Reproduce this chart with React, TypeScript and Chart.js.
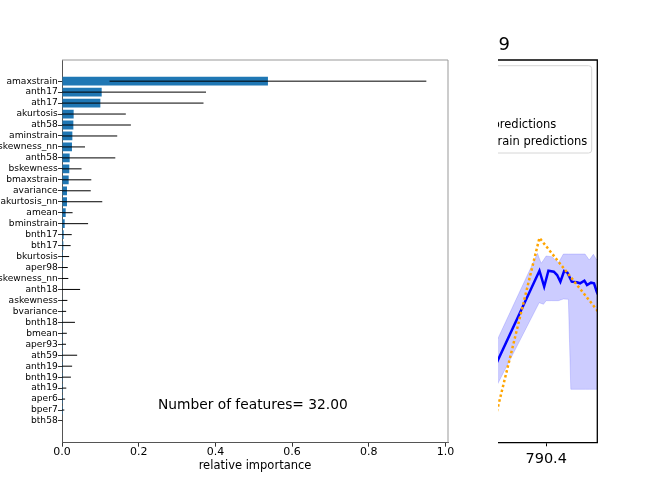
import React, { useEffect, useRef } from "react";
import { Chart, registerables } from "chart.js";
Chart.register(...registerables);
Chart.defaults.font.family = "'DejaVu Sans', sans-serif";

// ---------- left panel: feature importance ----------
const features = [
  "amaxstrain", "anth17", "ath17", "akurtosis", "ath58", "aminstrain", "bskewness_nn", "anth58",
  "bskewness", "bmaxstrain", "avariance", "akurtosis_nn", "amean", "bminstrain", "bnth17", "bth17",
  "bkurtosis", "aper98", "askewness_nn", "anth18", "askewness", "bvariance", "bnth18", "bmean",
  "aper93", "ath59", "anth19", "bnth19", "ath19", "aper6", "bper7", "bth58",
];
const importance = [
  0.537, 0.1035, 0.100, 0.0304, 0.0296, 0.027, 0.026, 0.020,
  0.019, 0.0174, 0.013, 0.013, 0.0096, 0.007, 0.0044, 0.0035,
  0.0026, 0.002, 0.0015, 0.0012, 0.001, 0.0008, 0.0008, 0.0006,
  0.0005, 0.0005, 0.0004, 0.0003, 0.0002, 0.0001, 0.0001, 0.0,
];
const errors = [
  0.413, 0.272, 0.269, 0.136, 0.150, 0.117, 0.034, 0.119,
  0.032, 0.059, 0.062, 0.092, 0.018, 0.061, 0.021, 0.019,
  0.016, 0.013, 0.015, 0.046, 0.013, 0.010, 0.033, 0.012,
  0.010, 0.039, 0.026, 0.023, 0.011, 0.008, 0.006, 0.001,
];
const xTicksLeft = [0, 0.2, 0.4, 0.6, 0.8, 1.0];
const annotationText = "Number of features= 32.00";

// ---------- right panel: predictions (partly visible) ----------
const predX = [789.789, 790.330, 790.379, 790.423, 790.479, 790.513, 790.547, 790.586, 790.620, 790.665, 790.717, 790.751, 790.796, 790.823, 790.865, 790.896, 790.924, 790.958];
const predY = [15.51, 44.89, 40.70, 44.89, 44.62, 43.76, 42.01, 44.81, 44.36, 42.01, 41.85, 41.59, 42.27, 41.15, 41.75, 41.59, 39.39, 37.5];
const bandX = [789.789, 790.310, 790.327, 790.348, 790.372, 790.399, 790.458, 790.527, 790.578, 790.630, 790.655, 790.803, 790.847, 790.889, 790.924, 790.958];
const bandUpper = [21.19, 49.44, 48.21, 46.82, 47.68, 48.73, 48.55, 46.98, 49.25, 49.25, 49.25, 49.25, 47.68, 49.18, 47.68, 48.99];
const bandLower = [9.97, 35.65, 36.52, 36.31, 36.10, 37.04, 37.04, 37.04, 37.48, 37.40, 13.86, 13.86, 13.86, 13.86, 13.86, 13.86];
const obsX = [789.789, 790.330, 790.924, 790.958];
const obsY = [-2.09, 53.49, 34.68, 33.61];
const xTicksRight = [790.4];
const rightTitle = "9";
const legendLabels = ["test predictions", "train predictions"];

const errorBarPlugin = {
  id: "errorBars",
  afterDatasetsDraw(chart: any) {
    const { ctx, chartArea, scales } = chart;
    const x = scales.x, y = scales.y;
    ctx.save();
    ctx.beginPath();
    ctx.rect(chartArea.left, chartArea.top, chartArea.right - chartArea.left, chartArea.bottom - chartArea.top);
    ctx.clip();
    ctx.strokeStyle = "#000";
    ctx.lineWidth = 1;
    importance.forEach((v, i) => {
      const py = y.getPixelForValue(i);
      ctx.beginPath();
      ctx.moveTo(x.getPixelForValue(v - errors[i]), py);
      ctx.lineTo(x.getPixelForValue(v + errors[i]), py);
      ctx.stroke();
    });
    ctx.restore();
  },
  afterDraw(chart: any) {
    const { ctx, chartArea, scales } = chart;
    ctx.save();
    ctx.strokeStyle = "#999";
    ctx.lineWidth = 1;
    ctx.beginPath();
    ctx.moveTo(chartArea.left, chartArea.top);
    ctx.lineTo(chartArea.right, chartArea.top);
    ctx.lineTo(chartArea.right, chartArea.bottom);
    ctx.stroke();
    ctx.fillStyle = "#000";
    ctx.font = "13.8px 'DejaVu Sans'";
    ctx.textAlign = "left";
    ctx.textBaseline = "middle";
    ctx.fillText(annotationText, scales.x.getPixelForValue(0.25), scales.y.getPixelForValue(29.54));
    ctx.restore();
  },
};

const rightDecorPlugin = {
  id: "rightDecor",
  afterDraw(chart: any) {
    const { ctx, chartArea } = chart;
    ctx.save();
    ctx.strokeStyle = "#000";
    ctx.lineWidth = 1.3;
    ctx.beginPath();
    ctx.moveTo(chartArea.left - 5, chartArea.top);
    ctx.lineTo(chartArea.right, chartArea.top);
    ctx.lineTo(chartArea.right, chartArea.bottom);
    ctx.stroke();
    // legend box
    ctx.fillStyle = "rgba(255,255,255,0.8)";
    ctx.strokeStyle = "#d6d6d6";
    ctx.lineWidth = 1;
    ctx.beginPath();
    (ctx as any).roundRect(-20, 65.7, chartArea.right - 5.6 + 20, 87.3, 3);
    ctx.fill();
    ctx.stroke();
    ctx.fillStyle = "#000";
    ctx.font = "11.5px 'DejaVu Sans'";
    ctx.textAlign = "right";
    ctx.textBaseline = "middle";
    ctx.fillText(legendLabels[0], 58.2, 125.5);
    ctx.fillText(legendLabels[1], 89.2, 142.5);
    // title
    ctx.font = "18px 'DejaVu Sans'";
    ctx.textAlign = "left";
    ctx.fillText(rightTitle, 0.5, 45);
    ctx.restore();
  },
};

export default function App() {
  const leftRef = useRef<HTMLCanvasElement>(null);
  const rightRef = useRef<HTMLCanvasElement>(null);

  useEffect(() => {
    const left = new Chart(leftRef.current as HTMLCanvasElement, {
      type: "bar",
      data: {
        datasets: [
          {
            data: importance.map((v, i) => ({ x: v, y: i })),
            backgroundColor: "#1f77b4",
            borderWidth: 0,
            barPercentage: 0.8,
            categoryPercentage: 1,
          },
        ],
      },
      options: {
        indexAxis: "y",
        animation: false,
        responsive: false,
        layout: { padding: { top: 60, right: 50, bottom: 24.8, left: 0 } },
        plugins: { legend: { display: false }, tooltip: { enabled: false } },
        scales: {
          x: {
            type: "linear",
            position: "bottom",
            min: 0,
            max: 1.0065,
            afterBuildTicks: (s: any) => {
              s.ticks = xTicksLeft.map((v) => ({ value: v }));
            },
            afterFit: (s: any) => {
              s.height = 30.5;
            },
            ticks: {
              callback: (v: any) => Number(v).toFixed(1),
              color: "#000",
              font: { size: 11 },
              padding: -1.5,
              maxRotation: 0,
            },
            grid: { display: true, drawOnChartArea: false, drawTicks: true, tickLength: 4, tickColor: "#333" },
            border: { display: true, color: "#555", width: 1 },
            title: { display: true, text: "relative importance", color: "#000", font: { size: 11.5 }, padding: 0 },
          },
          y: {
            type: "linear",
            reverse: true,
            min: -1.93,
            max: 32.98,
            offset: false,
            afterBuildTicks: (s: any) => {
              s.ticks = features.map((_, i) => ({ value: i }));
            },
            afterFit: (s: any) => {
              s.width = 62;
            },
            ticks: {
              autoSkip: false,
              callback: (v: any) => features[v],
              color: "#000",
              font: { size: 9.1 },
              padding: 0.3,
            },
            grid: { display: true, drawOnChartArea: false, drawTicks: true, tickLength: 4, tickColor: "#333", offset: false },
            border: { display: true, color: "#555", width: 1 },
          },
        },
      } as any,
      plugins: [errorBarPlugin],
    } as any);

    const right = new Chart(rightRef.current as HTMLCanvasElement, {
      type: "line",
      data: {
        datasets: [
          {
            data: bandX.map((x, i) => ({ x, y: bandUpper[i] })),
            borderColor: "rgba(0,0,255,0.15)",
            borderWidth: 1,
            backgroundColor: "rgba(0,0,255,0.2)",
            fill: "+1",
            pointRadius: 0,
            clip: 0,
            order: 3,
          },
          {
            data: bandX.map((x, i) => ({ x, y: bandLower[i] })),
            borderColor: "rgba(0,0,255,0.15)",
            borderWidth: 1,
            fill: false,
            pointRadius: 0,
            clip: 0,
            order: 2,
          },
          {
            data: predX.map((x, i) => ({ x, y: predY[i] })),
            borderColor: "#0000ff",
            borderWidth: 2.5,
            fill: false,
            pointRadius: 0,
            clip: 0,
            order: 1,
          },
          {
            data: obsX.map((x, i) => ({ x, y: obsY[i] })),
            borderColor: "#ffa500",
            borderWidth: 2.5,
            borderDash: [2.5, 2.5],
            fill: false,
            pointRadius: 0,
            clip: 0,
            order: 0,
          },
        ],
      },
      options: {
        animation: false,
        responsive: false,
        layout: { padding: { top: 60, right: 66.7, bottom: 0, left: 0 } },
        plugins: { legend: { display: false }, tooltip: { enabled: false } },
        scales: {
          x: {
            type: "linear",
            min: 789.9,
            max: 790.93,
            afterBuildTicks: (s: any) => {
              s.ticks = xTicksRight.map((v) => ({ value: v }));
            },
            afterFit: (s: any) => {
              s.height = 55.7;
            },
            ticks: {
              callback: (v: any) => Number(v).toFixed(1),
              color: "#000",
              font: { size: 14.5 },
              padding: 4,
              maxRotation: 0,
            },
            grid: { display: true, drawOnChartArea: false, drawTicks: true, tickLength: 4, tickColor: "#000" },
            border: { display: true, color: "#000", width: 1.3 },
          },
          y: { display: false, min: 0, max: 100 },
        },
      } as any,
      plugins: [rightDecorPlugin],
    } as any);

    return () => {
      left.destroy();
      right.destroy();
    };
  }, []);

  return (
    <div style={{ position: "absolute", left: 0, top: 0, width: 664, height: 498, background: "#fff", overflow: "hidden" }}>
      <canvas ref={leftRef} width={498} height={498} style={{ position: "absolute", left: 0, top: 0, width: 498, height: 498 }} />
      <canvas ref={rightRef} width={166} height={498} style={{ position: "absolute", left: 498, top: 0, width: 166, height: 498 }} />
    </div>
  );
}
